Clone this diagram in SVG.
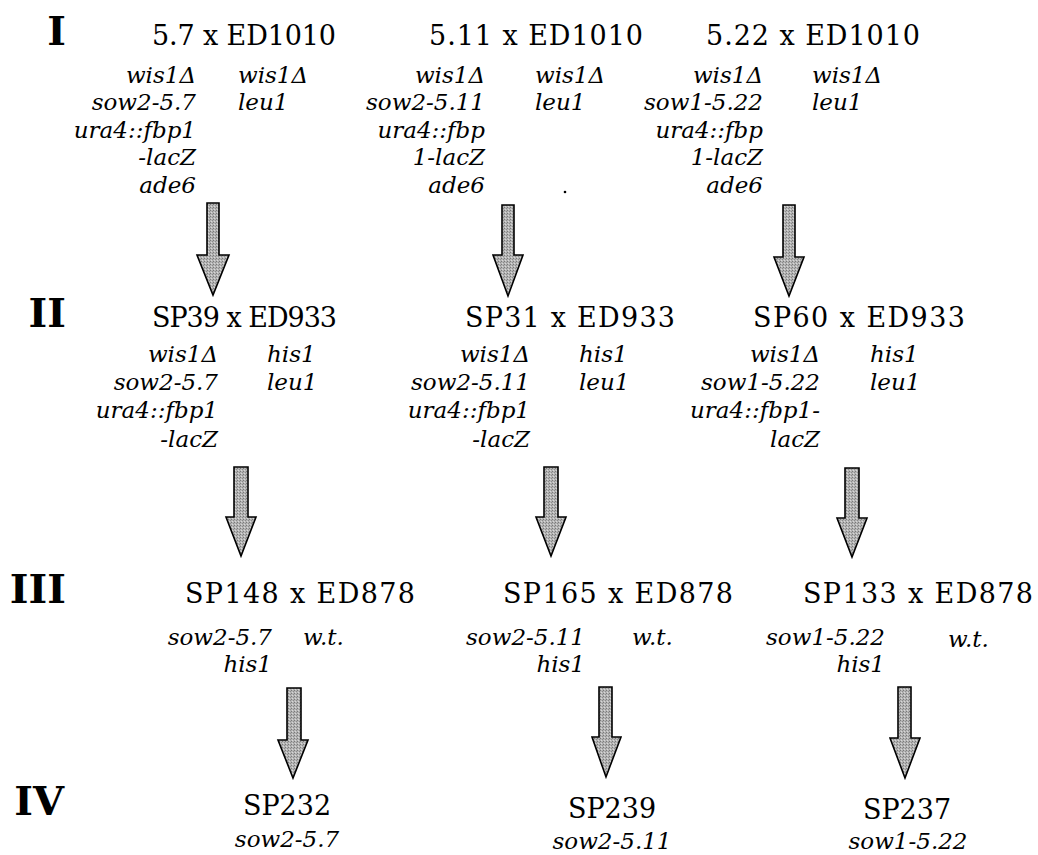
<svg xmlns="http://www.w3.org/2000/svg" width="1038" height="855" viewBox="0 0 1038 855">
  <defs>
    <style>
      text { font-family: "DejaVu Serif", "Liberation Serif", serif; fill: #000; }
      .roman { font-weight: bold; font-size: 40px; text-anchor: end; }
      .title { font-size: 27px; }
      .geno { font-style: italic; font-size: 23px; }
      .l { text-anchor: end; }
      .c { text-anchor: middle; }
      .arrow { fill: url(#stipple); stroke: #000; stroke-width: 1.6; stroke-linejoin: miter; }
    </style>
    <!-- fine grey stipple used inside the block arrows -->
    <pattern id="stipple" width="3" height="3" patternUnits="userSpaceOnUse">
      <rect width="3" height="3" fill="#b4b4b4"/>
      <rect x="0" y="0" width="1" height="1" fill="#7a7a7a"/>
      <rect x="2" y="1" width="1" height="1" fill="#8c8c8c"/>
      <rect x="1" y="2" width="1" height="1" fill="#d8d8d8"/>
    </pattern>
  </defs>

  <rect width="1038" height="855" fill="#fff"/>

  <!-- generation labels -->
  <g id="generations">
    <text class="roman" x="66" y="45">I</text>
    <text class="roman" x="66" y="327">II</text>
    <text class="roman" x="66" y="603">III</text>
    <text class="roman" x="64" y="815">IV</text>
  </g>

  <!-- cross I -->
  <g id="cross-5-7">
    <text class="title" x="152" y="45" textLength="184">5.7 x ED1010</text>
    <text class="geno l" x="196" y="83">wis1Δ</text>
    <text class="geno l" x="196" y="110">sow2-5.7</text>
    <text class="geno l" x="196" y="137.5">ura4::fbp1</text>
    <text class="geno l" x="196" y="165">-lacZ</text>
    <text class="geno l" x="196" y="192.5">ade6</text>
    <text class="geno" x="238" y="83">wis1Δ</text>
    <text class="geno" x="238" y="110">leu1</text>
  </g>
  <g id="cross-5-11">
    <text class="title" x="429" y="45" textLength="214">5.11 x ED1010</text>
    <text class="geno l" x="485" y="83">wis1Δ</text>
    <text class="geno l" x="485" y="110">sow2-5.11</text>
    <text class="geno l" x="485" y="137.5">ura4::fbp</text>
    <text class="geno l" x="485" y="165">1-lacZ</text>
    <text class="geno l" x="485" y="192.5">ade6</text>
    <text class="geno" x="535" y="83">wis1Δ</text>
    <text class="geno" x="535" y="110">leu1</text>
    <circle cx="565" cy="192" r="1.3" fill="#000"/>
  </g>
  <g id="cross-5-22">
    <text class="title" x="706" y="45" textLength="214">5.22 x ED1010</text>
    <text class="geno l" x="763" y="83">wis1Δ</text>
    <text class="geno l" x="763" y="110">sow1-5.22</text>
    <text class="geno l" x="763" y="137.5">ura4::fbp</text>
    <text class="geno l" x="763" y="165">1-lacZ</text>
    <text class="geno l" x="763" y="192.5">ade6</text>
    <text class="geno" x="812" y="83">wis1Δ</text>
    <text class="geno" x="812" y="110">leu1</text>
  </g>

  <!-- cross II -->
  <g id="cross-sp39">
    <text class="title" x="152" y="327" textLength="185">SP39 x ED933</text>
    <text class="geno l" x="218" y="362">wis1Δ</text>
    <text class="geno l" x="218" y="390">sow2-5.7</text>
    <text class="geno l" x="218" y="418">ura4::fbp1</text>
    <text class="geno l" x="218" y="447">-lacZ</text>
    <text class="geno" x="267" y="362">his1</text>
    <text class="geno" x="267" y="390">leu1</text>
  </g>
  <g id="cross-sp31">
    <text class="title" x="465" y="327" textLength="210">SP31 x ED933</text>
    <text class="geno l" x="530" y="362">wis1Δ</text>
    <text class="geno l" x="530" y="390">sow2-5.11</text>
    <text class="geno l" x="530" y="418">ura4::fbp1</text>
    <text class="geno l" x="530" y="447">-lacZ</text>
    <text class="geno" x="579" y="362">his1</text>
    <text class="geno" x="579" y="390">leu1</text>
  </g>
  <g id="cross-sp60">
    <text class="title" x="753" y="327" textLength="212">SP60 x ED933</text>
    <text class="geno l" x="820" y="362">wis1Δ</text>
    <text class="geno l" x="820" y="390">sow1-5.22</text>
    <text class="geno l" x="820" y="418">ura4::fbp1-</text>
    <text class="geno l" x="820" y="447">lacZ</text>
    <text class="geno" x="870" y="362">his1</text>
    <text class="geno" x="870" y="390">leu1</text>
  </g>

  <!-- cross III -->
  <g id="cross-sp148">
    <text class="title" x="185" y="603" textLength="230">SP148 x ED878</text>
    <text class="geno l" x="272" y="645">sow2-5.7</text>
    <text class="geno l" x="272" y="672">his1</text>
    <text class="geno" x="303" y="645">w.t.</text>
  </g>
  <g id="cross-sp165">
    <text class="title" x="503" y="603" textLength="230">SP165 x ED878</text>
    <text class="geno l" x="585" y="645">sow2-5.11</text>
    <text class="geno l" x="585" y="672">his1</text>
    <text class="geno" x="632" y="645">w.t.</text>
  </g>
  <g id="cross-sp133">
    <text class="title" x="803" y="603" textLength="230">SP133 x ED878</text>
    <text class="geno l" x="885" y="645">sow1-5.22</text>
    <text class="geno l" x="885" y="672">his1</text>
    <text class="geno" x="948" y="647">w.t.</text>
  </g>

  <!-- strains IV -->
  <g id="strain-sp232">
    <text class="title c" x="287" y="815">SP232</text>
    <text class="geno c" x="287" y="847">sow2-5.7</text>
  </g>
  <g id="strain-sp239">
    <text class="title c" x="612" y="818">SP239</text>
    <text class="geno c" x="612" y="849">sow2-5.11</text>
  </g>
  <g id="strain-sp237">
    <text class="title c" x="907" y="819">SP237</text>
    <text class="geno c" x="908" y="849">sow1-5.22</text>
  </g>

  <!-- block arrows between generations -->
  <g id="connectors">
    <polygon class="arrow" points="207,203 219,203 219,255 229,255 213,295 197,255 207,255"/>
    <polygon class="arrow" points="502,205 514,205 514,255 523,255 508,296 493,255 502,255"/>
    <polygon class="arrow" points="783,205 795,205 795,257 804,257 789,296 774,257 783,257"/>

    <polygon class="arrow" points="234,467 248,467 248,517 256,517 241,556 226,517 234,517"/>
    <polygon class="arrow" points="544,467 558,467 558,517 566,517 551,556 536,517 544,517"/>
    <polygon class="arrow" points="845,468 859,468 859,518 867,518 852,557 837,518 845,518"/>

    <polygon class="arrow" points="287,688 301,688 301,740 308,740 293,778 278,740 287,740"/>
    <polygon class="arrow" points="599,687 612,687 612,737 621,737 606,777 592,737 599,737"/>
    <polygon class="arrow" points="898,687 911,687 911,738 920,738 905,778 890,738 898,738"/>
  </g>
</svg>
